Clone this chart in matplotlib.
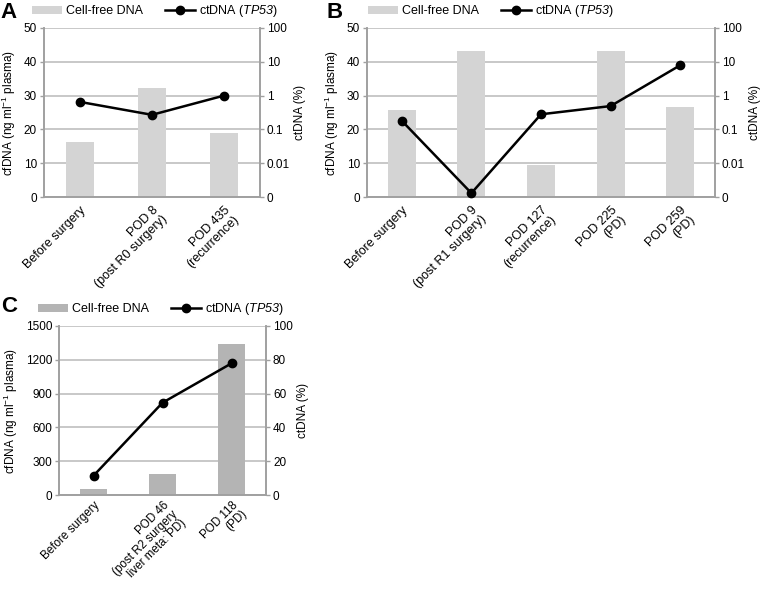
import matplotlib
matplotlib.use('Agg')
import matplotlib.pyplot as plt
from matplotlib.patches import Patch
from matplotlib.lines import Line2D
import numpy as np

plt.rcParams['font.family'] = ['Liberation Sans', 'DejaVu Sans']
plt.rcParams['mathtext.fontset'] = 'custom'
plt.rcParams['mathtext.rm'] = 'Liberation Sans'
plt.rcParams['mathtext.it'] = 'Liberation Sans:italic'
plt.rcParams['mathtext.sf'] = 'Liberation Sans:italic'

# ---- data ----
a_labels = ['Before surgery', 'POD 8\n(post R0 surgery)', 'POD 435\n(recurrence)']
a_cfdna = [16.3, 32.3, 19.0]
a_ctdna = [0.65, 0.27, 1.0]

b_labels = ['Before surgery', 'POD 9\n(post R1 surgery)', 'POD 127\n(recurrence)',
            'POD 225\n(PD)', 'POD 259\n(PD)']
b_cfdna = [25.8, 43.3, 9.4, 43.2, 26.6]
b_ctdna = [0.18, 0.0013, 0.28, 0.49, 7.9]

c_labels = ['Before surgery', 'POD 46\n(post R2 surgery\nliver meta: PD)', 'POD 118\n(PD)']
c_cfdna = [50, 183, 1340]
c_ctdna = [11.4, 54.6, 77.9]

left_ticks_ab = [0, 10, 20, 30, 40, 50]
right_ticks_ab = [0.001, 0.01, 0.1, 1, 10, 100]
right_ticklabels_ab = ['0', '0.01', '0.1', '1', '10', '100']
left_ticks_c = [0, 300, 600, 900, 1200, 1500]
right_ticks_c = [0, 20, 40, 60, 80, 100]
right_ticklabels_c = ['0', '20', '40', '60', '80', '100']

legend_labels = ['Cell-free DNA', 'ctDNA ($\\mathsf{TP53}$)']

W, H = 761, 592
fig = plt.figure(figsize=(W / 100, H / 100), dpi=100)

SPINE = '#a0a0a0'
GRID = '#c4c4c4'
FS = 8.5


def px_rect(l, t, r, b):
    return [l / W, 1 - b / H, (r - l) / W, (b - t) / H]


def panel(rect, labels, cf, ct, bar_color, lticks, rticks, rticklabels, log,
          letter, letter_xy, legend_xy, xfs, xpad, xls):
    ax = fig.add_axes(px_rect(*rect))
    x = np.arange(len(labels))
    ax.bar(x, cf, width=0.4, color=bar_color, zorder=2)
    ax.set_xlim(-0.5, len(labels) - 0.5)
    ax.set_ylim(lticks[0], lticks[-1])
    ax.set_yticks(lticks)
    ax.set_yticklabels([str(v) for v in lticks], fontsize=FS)
    ax.yaxis.grid(True, color=GRID, lw=1.3, zorder=0)
    ax.set_axisbelow(True)
    ax.set_xticks(x)
    ax.set_xticklabels(labels, rotation=45, ha='right', va='top',
                       rotation_mode='anchor', multialignment='right',
                       linespacing=xls, fontsize=xfs)
    ax.tick_params(axis='x', length=0, pad=xpad)
    ax.tick_params(axis='y', length=3, color=SPINE, width=1, pad=2)
    ax.set_ylabel('cfDNA (ng ml$^{-1}$ plasma)', fontsize=FS, labelpad=4)

    ax2 = ax.twinx()
    ax2.plot(x, ct, '-o', color='black', lw=1.8, ms=6, zorder=3, clip_on=False)
    if log:
        ax2.set_yscale('log')
    ax2.set_ylim(rticks[0], rticks[-1])
    ax2.set_yticks(rticks)
    ax2.set_yticklabels(rticklabels, fontsize=FS)
    ax2.minorticks_off()
    ax2.tick_params(axis='y', length=3, color=SPINE, width=1, pad=2)
    ax2.set_ylabel('ctDNA (%)', fontsize=FS, labelpad=3)

    for a in (ax, ax2):
        a.spines['top'].set_visible(False)
        for s in ('left', 'right', 'bottom'):
            a.spines[s].set_color(SPINE)
            a.spines[s].set_linewidth(1.2)

    fig.text(letter_xy[0] / W, 1 - letter_xy[1] / H, letter, fontsize=16,
             fontweight='bold', va='center', ha='left')
    handles = [Patch(facecolor=bar_color, edgecolor='none'),
               Line2D([], [], color='black', lw=1.8, marker='o', ms=6)]
    fig.legend(handles, legend_labels, loc='center left',
               bbox_to_anchor=(legend_xy[0] / W, 1 - legend_xy[1] / H),
               ncol=2, frameon=False, fontsize=9, handlelength=2.4,
               handleheight=0.6, handletextpad=0.3, columnspacing=1.8,
               borderaxespad=0, borderpad=0)
    return ax, ax2


panel((44, 28, 260, 197), a_labels, a_cfdna, a_ctdna, '#d4d4d4',
      left_ticks_ab, right_ticks_ab, right_ticklabels_ab, True,
      'A', (0, 13), (32, 11), 9.0, 5, 1.1)
panel((367, 28, 715, 197), b_labels, b_cfdna, b_ctdna, '#d4d4d4',
      left_ticks_ab, right_ticks_ab, right_ticklabels_ab, True,
      'B', (326, 13), (368, 11), 9.0, 5, 1.1)
panel((59, 326, 266, 495), c_labels, c_cfdna, c_ctdna, '#b4b4b4',
      left_ticks_c, right_ticks_c, right_ticklabels_c, False,
      'C', (1, 307), (38, 309), 8.4, 3, 1.05)

fig.savefig('out.png', dpi=100)
